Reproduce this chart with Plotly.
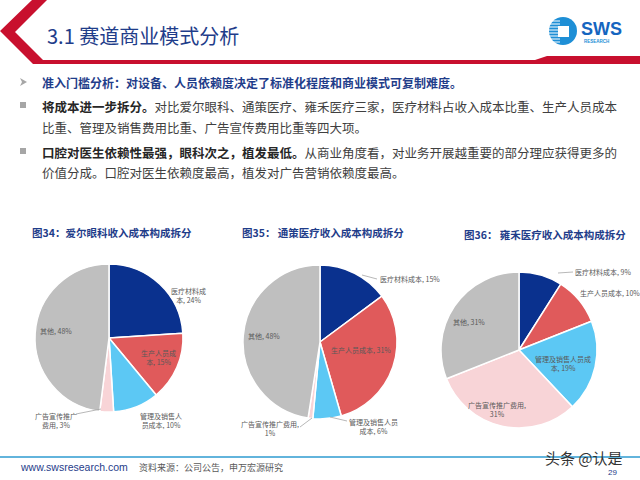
import plotly.graph_objects as go

# ---- data ----
categories = ["医疗材料成本", "生产人员成本", "管理及销售人员成本", "广告宣传推广费用", "其他"]
aier_values = [24, 15, 10, 3, 48]
tongce_values = [15, 31, 6, 1, 48]
yonghe_values = [9, 10, 19, 31, 31]
chart_titles = ["图34：爱尔眼科收入成本构成拆分", "图35： 通策医疗收入成本构成拆分", "图36： 雍禾医疗收入成本构成拆分"]

colors = ["#0A318E", "#E05A5B", "#5CC8F4", "#F8D4D7", "#BFBFBF"]
W, H = 640, 480
FONT = "Noto Sans CJK SC"


def px(x, y):
    return x / W, 1 - y / H


fig = go.Figure()

# pie boxes in pixels: (left, top, size)
boxes = [(35, 264, 148), (243, 265, 154), (441, 272, 156)]
for vals, (l, t, s) in zip([aier_values, tongce_values, yonghe_values], boxes):
    fig.add_trace(go.Pie(
        labels=categories, values=vals, sort=False, direction="clockwise", rotation=0,
        marker=dict(colors=colors, line=dict(color="white", width=1.5)),
        textinfo="none", hoverinfo="label+percent", showlegend=False,
        domain=dict(x=[l / W, (l + s) / W], y=[1 - (t + s) / H, 1 - t / H]),
    ))

annotations = []
shapes = []


def text(x, y, s, size, color="#595959", xanchor="center", family=FONT, bold=False):
    xx, yy = px(x, y)
    annotations.append(dict(x=xx, y=yy, xref="paper", yref="paper", text=f"<b>{s}</b>" if bold else s,
                            showarrow=False, xanchor=xanchor, yanchor="middle", align=xanchor,
                            font=dict(size=size, color=color, family=family)))


def line(x0, y0, x1, y1, color="#A6A6A6", width=0.8):
    a, b = px(x0, y0)
    c, d = px(x1, y1)
    shapes.append(dict(type="line", xref="paper", yref="paper", x0=a, y0=b, x1=c, y1=d,
                       line=dict(color=color, width=width)))


def polygon(pts, color):
    path = "M " + " L ".join(f"{px(x, y)[0]},{px(x, y)[1]}" for x, y in pts) + " Z"
    shapes.append(dict(type="path", xref="paper", yref="paper", path=path, fillcolor=color, line=dict(width=0)))


def box(x0, y0, x1, y1, color, kind="rect"):
    a, b = px(x0, y0)
    c, d = px(x1, y1)
    shapes.append(dict(type=kind, xref="paper", yref="paper", x0=a, y0=b, x1=c, y1=d,
                       fillcolor=color, line=dict(width=0)))


# ---- pie labels ----
pie_series = [aier_values, tongce_values, yonghe_values]
label_texts = [
    ["医疗材料成<br>本, {}%", "生产人员成<br>本, {}%", "管理及销售人<br>员成本, {}%", "广告宣传推广<br>费用, {}%", "其他, {}%"],
    ["医疗材料成本, {}%", "生产人员成本, {}%", "管理及销售人员<br>成本, {}%", "广告宣传推广费用,<br>{}%", "其他, {}%"],
    ["医疗材料成本, {}%", "生产人员成本, {}%", "管理及销售人员成<br>本, {}%", "广告宣传推广费用,<br>{}%", "其他, {}%"],
]
label_pos = [
    [(188, 295, "center"), (158, 357, "center"), (161, 420, "center"), (56, 420, "center"), (56, 331, "center")],
    [(378, 279, "left"), (361, 350, "center"), (373, 426, "center"), (270, 428, "center"), (264, 336, "center")],
    [(573, 272, "left"), (578, 293, "left"), (563, 363, "center"), (497, 409, "center"), (469, 322, "center")],
]
for vals, tmpl, pos in zip(pie_series, label_texts, label_pos):
    for v, t, (x, y, anc) in zip(vals, tmpl, pos):
        text(x, y, t.format(v), 7, "#595959", xanchor=anc)

line(76, 414, 101, 409)
line(362, 275, 377, 279)
line(330, 417, 347, 421)
line(300, 427, 312, 418)
line(558, 273, 573, 272)

# ---- chart titles ----
for (x, y), t in zip([(112, 232), (323, 232), (545, 234)], chart_titles):
    text(x, y, t, 10.5, "#1F3D8A", bold=True)

# ---- header ----
polygon([(32, 0), (47, 0), (15, 32), (43, 60), (535, 60), (547, 56), (640, 56), (640, 64), (33, 64), (0, 31)],
        "#C8102E")
text(45, 36, "3.1 赛道商业模式分析", 20, "#1F3D8A", xanchor="left")

# logo
box(549, 17, 577, 45, "#1E8FD6", kind="circle")
for yy in range(21, 43, 3):
    line(549, yy, 560, yy, color="white", width=1)
box(558, 26, 569, 37, "white")
text(579, 29, "SWS", 18, "#1565C0", xanchor="left", family="Arial", bold=True)
text(582, 41, "RESEARCH", 4.5, "#1E8FD6", xanchor="left", family="Arial", bold=True)

# ---- bullets ----
polygon([(20, 78), (27, 82), (20, 86), (22, 82)], "#A6A6A6")
for yy in (105, 151):
    box(20, yy - 3, 26, yy + 3, "#A6A6A6")

text(40, 83, "准入门槛分析：对设备、人员依赖度决定了标准化程度和商业模式可复制难度。", 12, "#1F3D8A", xanchor="left", bold=True)
text(40, 106, "<b><span style='color:#262626'>将成本进一步拆分。</span></b>对比爱尔眼科、通策医疗、雍禾医疗三家，医疗材料占收入成本比重、生产人员成本",
     12.5, "#404040", xanchor="left")
text(40, 128, "比重、管理及销售费用比重、广告宣传费用比重等四大项。", 12.5, "#404040", xanchor="left")
text(40, 152, "<b><span style='color:#262626'>口腔对医生依赖性最强，眼科次之，植发最低。</span></b>从商业角度看，对业务开展越重要的部分理应获得更多的",
     12.5, "#404040", xanchor="left")
text(40, 173, "价值分成。口腔对医生依赖度最高，植发对广告营销依赖度最高。", 12.5, "#404040", xanchor="left")

# ---- footer ----
line(0, 457, 640, 457, color="#2E9BD0", width=1.5)
text(18, 467, "www.swsresearch.com", 10.5, "#1F3D8A", xanchor="left", family="Arial")
text(137, 467, "资料来源：公司公告，申万宏源研究", 9, "#595959", xanchor="left")
text(584, 457, "头条 @认是", 15, "#333333")
text(612, 472, "29", 8, "#1F3D8A", family="Arial")

fig.update_layout(
    width=W, height=H, margin=dict(l=0, r=0, t=0, b=0),
    paper_bgcolor="white", plot_bgcolor="white",
    annotations=annotations, shapes=shapes,
    font=dict(family=FONT),
)

fig.write_html("out.html", config={"displayModeBar": False},
               post_script="document.body.style.margin='0';")
